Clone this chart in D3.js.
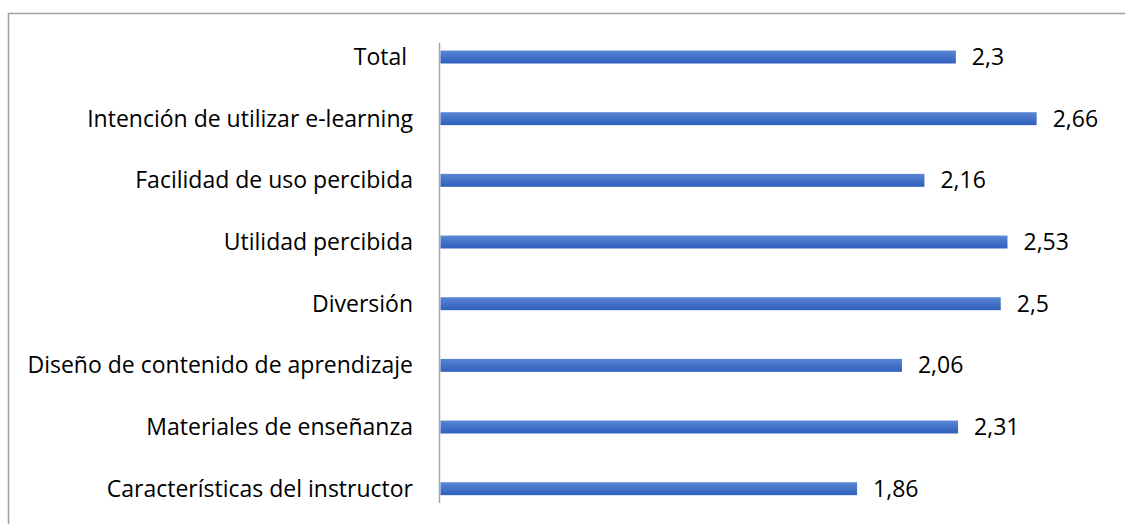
<!DOCTYPE html>
<html>
<head>
<meta charset="utf-8">
<script src="https://cdn.jsdelivr.net/npm/d3@7"></script>
<style>
  body { margin: 0; background: #fff; }
  text { font-family: "Open Sans", sans-serif; fill: #000; }
</style>
</head>
<body>
<svg id="chart" width="1125" height="524"></svg>
<script>
// categorias y valores (de arriba hacia abajo)
const categories = ['Total ', 'Intención de utilizar e-learning', 'Facilidad de uso percibida',
  'Utilidad percibida', 'Diversión', 'Diseño de contenido de aprendizaje',
  'Materiales de enseñanza', 'Características del instructor']
const values = [2.3, 2.66, 2.16, 2.53, 2.5, 2.06, 2.31, 1.86]
const valueLabels = ['2,3', '2,66', '2,16', '2,53', '2,5', '2,06', '2,31', '1,86']

const svg = d3.select('#chart')
const W = 1125, H = 524

// marco del grafico
svg.append('rect')
  .attr('x', 8.5).attr('y', 13.5)
  .attr('width', W + 10).attr('height', H + 10)
  .attr('fill', 'none').attr('stroke', '#a0a0a0').attr('stroke-width', 1.5)

const defs = svg.append('defs')
const grad = defs.append('linearGradient').attr('id', 'barGrad')
  .attr('x1', 0).attr('y1', 0).attr('x2', 0).attr('y2', 1)
grad.append('stop').attr('offset', '0%').attr('stop-color', '#5a86d4')
grad.append('stop').attr('offset', '100%').attr('stop-color', '#2f5fbd')

const x = d3.scaleLinear().domain([0, 3]).range([439.5, 1113])
const y = d3.scaleBand()
  .domain(categories)
  .range([42.7, 503])
  .paddingInner(0.79)
  .paddingOuter(0.127)

// eje vertical
svg.append('line')
  .attr('x1', x(0)).attr('x2', x(0))
  .attr('y1', 42.7).attr('y2', 503)
  .attr('stroke', '#a6a6a6').attr('stroke-width', 1.5)

svg.selectAll('rect.bar')
  .data(values)
  .enter()
  .append('rect')
  .attr('class', 'bar')
  .attr('x', x(0) + 1)
  .attr('y', (d, i) => y(categories[i]))
  .attr('width', d => x(d) - x(0) - 1)
  .attr('height', y.bandwidth())
  .attr('fill', 'url(#barGrad)')

// etiquetas de categoria
svg.selectAll('text.cat')
  .data(categories)
  .enter()
  .append('text')
  .attr('class', 'cat')
  .attr('x', 413)
  .attr('y', d => y(d) + y.bandwidth() / 2)
  .attr('dy', '0.35em')
  .attr('text-anchor', 'end')
  .style('white-space', 'pre')
  .style('font-size', '23px')
  .text(d => d)

// etiquetas de valor
svg.selectAll('text.val')
  .data(values)
  .enter()
  .append('text')
  .attr('class', 'val')
  .attr('x', d => x(d) + 16)
  .attr('y', (d, i) => y(categories[i]) + y.bandwidth() / 2)
  .attr('dy', '0.35em')
  .style('font-size', '23px')
  .text((d, i) => valueLabels[i])
</script>
</body>
</html>
